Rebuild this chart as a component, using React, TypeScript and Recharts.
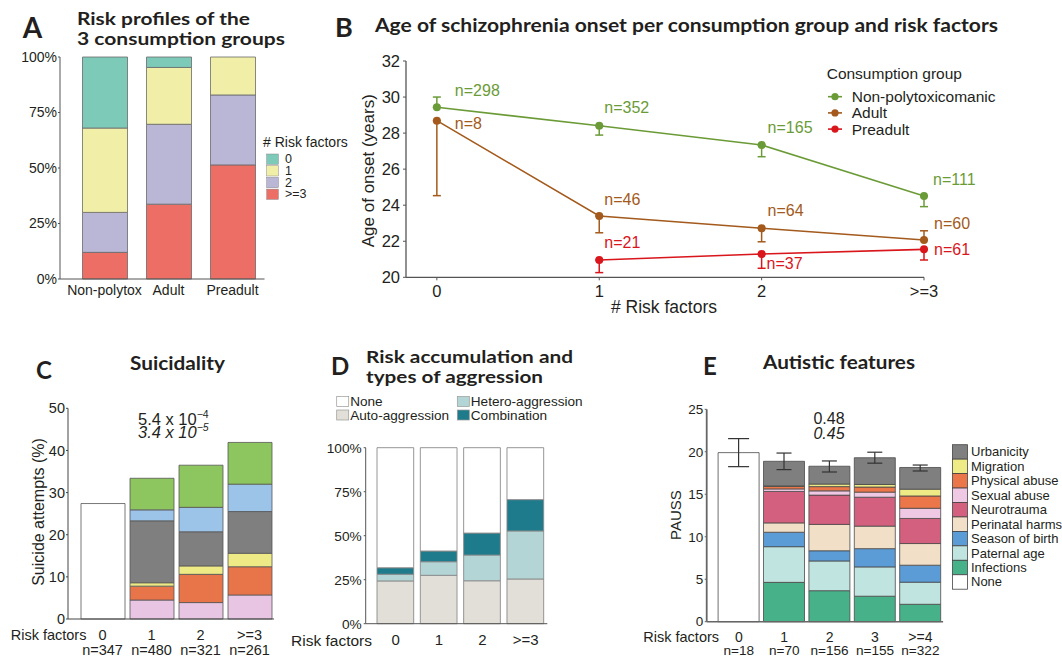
import React from "react";
import { BarChart, Bar, XAxis, YAxis, LineChart, Line, ErrorBar } from "recharts";

const SANS = "'Liberation Sans', Arial, Helvetica, sans-serif";
const HEAD = "Lato, 'Open Sans', sans-serif";
const INK = "#231f20";
const AXIS = "#555";

// ---- A: risk profiles of the 3 consumption groups (% of group)
const groupsA = ["Non-polytox", "Adult", "Preadult"];
const riskA0 = [32, 4.7, 0];
const riskA1 = [38, 25.6, 17.1];
const riskA2 = [18, 36, 31.5];
const riskA3 = [12, 33.7, 51.4];
const riskNamesA = ["0", "1", "2", ">=3"];
const riskColorsA = ["#7ecab9", "#f1eea7", "#b9b6d6", "#ec6e64"];
const pctTicks = [0, 25, 50, 75, 100];

// ---- B: age of onset per group and number of risk factors
const riskB = ["0", "1", "2", ">=3"];
const xB = [0, 1, 2, 3];
const ageTicksB = [20, 22, 24, 26, 28, 30, 32];
const greenB = [29.43, 28.41, 27.34, 24.51];
const greenErrB = [[0, 0.57], [0.52, 0], [0.65, 0], [0.59, 0]];
const greenNB = [298, 352, 165, 111];
const brownB = [28.69, 23.4, 22.72, 22.07];
const brownErrB = [[4.16, 0], [0.93, 0], [0.75, 0], [0, 0.51]];
const brownNB = [8, 46, 64, 60];
const redXB = [1, 2, 3];
const redB = [20.96, 21.29, 21.55];
const redErrB = [[0.7, 0], [0.79, 0], [0.59, 0]];
const redNB = [21, 37, 61];
const groupNamesB = ["Non-polytoxicomanic", "Adult", "Preadult"];
const GREEN = "#6b9b37";
const BROWN = "#a35a1c";
const RED = "#d9161c";
// where each n= label sits relative to its point
const nOffGreen = [[18, -17], [5, -18], [6, -17], [9, -17]];
const nOffBrown = [[18, 3], [5, -17], [6, -17.5], [10, -16]];
const nOffRed = [[5, -17], [5, 9], [10, 0]];

// ---- C: suicidality
const ticksC = ["0", "1", "2", ">=3"];
const nC = [347, 480, 321, 261];
const noneC = [27.4, 0, 0, 0];
const pinkC = [0, 4.5, 3.9, 5.7];
const orangeC = [0, 3.3, 6.7, 6.7];
const yellowC = [0, 0.8, 2.0, 3.2];
const grayC = [0, 14.7, 8.1, 9.9];
const blueC = [0, 2.6, 5.8, 6.5];
const greenC = [0, 7.5, 10.0, 9.9];
const ticksYC = [0, 10, 20, 30, 40, 50];

// ---- D: aggression types
const ticksD = ["0", "1", "2", ">=3"];
const autoD = [24.3, 27.5, 24.4, 25.4];
const heteroD = [3.8, 7.7, 14.6, 27.3];
const combD = [3.7, 6.1, 12.5, 17.8];
const noneD = [68.2, 58.7, 48.5, 29.5];

// ---- E: autistic features (PAUSS)
const ticksE = ["0", "1", "2", "3", ">=4"];
const nE = [18, 70, 156, 155, 322];
const noneE = [19.9, 0, 0, 0, 0];
const infE = [0, 4.63, 3.65, 3.0, 2.05];
const patE = [0, 4.2, 3.5, 3.45, 2.6];
const seasonE = [0, 1.7, 1.2, 2.15, 2.0];
const periE = [0, 1.1, 3.1, 2.65, 2.55];
const neuroE = [0, 3.7, 3.45, 3.4, 2.95];
const sexE = [0, 0.3, 0.5, 0.6, 1.2];
const physE = [0, 0.3, 0.5, 0.6, 1.45];
const migE = [0, 0.05, 0.3, 0.3, 0.8];
const urbE = [0, 2.9, 2.1, 3.15, 2.55];
const errNoneE = [[1.65, 1.65], null, null, null, null];
const errTopE = [null, [0.98, 0.97], [0.68, 0.62], [0.64, 0.65], [0.41, 0.29]];
const ticksYE = [0, 5, 10, 15, 20, 25];

const seriesC = [
  { key: "none", values: noneC, color: "#ffffff" },
  { key: "pink", values: pinkC, color: "#e8c6e3" },
  { key: "orange", values: orangeC, color: "#e8744a" },
  { key: "yellow", values: yellowC, color: "#eeea85" },
  { key: "gray", values: grayC, color: "#7f7f7f" },
  { key: "blue", values: blueC, color: "#9cc4e9" },
  { key: "green", values: greenC, color: "#8dc65e" },
];

const seriesD = [
  { key: "auto", name: "Auto-aggression", values: autoD, color: "#e1dfd8" },
  { key: "hetero", name: "Hetero-aggression", values: heteroD, color: "#b4d5d6" },
  { key: "comb", name: "Combination", values: combD, color: "#1e7b8b" },
  { key: "none", name: "None", values: noneD, color: "#ffffff" },
];

// bottom to top
const seriesE = [
  { key: "none", name: "None", values: noneE, color: "#ffffff" },
  { key: "inf", name: "Infections", values: infE, color: "#47b18a" },
  { key: "pat", name: "Paternal age", values: patE, color: "#c0e4e0" },
  { key: "season", name: "Season of birth", values: seasonE, color: "#5b9bd6" },
  { key: "peri", name: "Perinatal harms", values: periE, color: "#f2dfc8" },
  { key: "neuro", name: "Neurotrauma", values: neuroE, color: "#d3607f" },
  { key: "sex", name: "Sexual abuse", values: sexE, color: "#efc8e3" },
  { key: "phys", name: "Physical abuse", values: physE, color: "#ea7649" },
  { key: "mig", name: "Migration", values: migE, color: "#eeea86" },
  { key: "urb", name: "Urbanicity", values: urbE, color: "#7f7f7f" },
];

const tickStyle = (size: number) => ({ fontSize: size, fill: INK, fontFamily: SANS });

function twoLineTick(labels: string[], ns: number[], d1: number, d2: number, f1: number, f2: number) {
  return (props: any) => {
    const { x, y, index } = props;
    return (
      <g>
        <text x={x} y={y + d1} textAnchor="middle" dominantBaseline="central" fontSize={f1} fontFamily={SANS} fill={INK}>
          {labels[index]}
        </text>
        <text x={x} y={y + d2} textAnchor="middle" dominantBaseline="central" fontSize={f2} fontFamily={SANS} fill={INK}>
          n={ns[index]}
        </text>
      </g>
    );
  };
}

function dotWithN(color: string, offsets: number[][]) {
  return (p: any) => {
    const { cx, cy, index, payload } = p;
    if (cx == null || cy == null) return <g key={`e${index}`} />;
    const [dx, dy] = offsets[index];
    return (
      <g key={`d${index}`}>
        <circle cx={cx} cy={cy} r={4} fill={color} />
        <text x={cx + dx} y={cy + dy} fill={color} fontSize={16} fontFamily={SANS} dominantBaseline="central">
          n={payload.n}
        </text>
      </g>
    );
  };
}

function PanelA() {
  const data = groupsA.map((g, i) => ({ group: g, r0: riskA0[i], r1: riskA1[i], r2: riskA2[i], r3: riskA3[i] }));
  const keys = ["r3", "r2", "r1", "r0"];
  return (
    <BarChart width={360} height={300} data={data} margin={{ top: 57, right: 95.5, bottom: 0, left: 0 }}>
      <XAxis dataKey="group" height={21} padding={{ left: 12.5, right: 0 }} interval={0} tickSize={0} tickMargin={6}
        axisLine={{ stroke: AXIS }} tick={tickStyle(14)} />
      <YAxis width={60} domain={[0, 100]} ticks={pctTicks} tickFormatter={(v) => `${v}%`} tickSize={2} tickMargin={1}
        axisLine={{ stroke: AXIS }} tickLine={{ stroke: AXIS }} tick={tickStyle(14)} />
      {keys.map((k) => (
        <Bar key={k} dataKey={k} stackId="a" barSize={45} fill={riskColorsA[Number(k[1])]} stroke="#6a6a6a" strokeWidth={0.8} isAnimationActive={false} />
      ))}
    </BarChart>
  );
}

function PanelB() {
  const green = xB.map((x, i) => ({ x, y: greenB[i], err: greenErrB[i], n: greenNB[i] }));
  const brown = xB.map((x, i) => ({ x, y: brownB[i], err: brownErrB[i], n: brownNB[i] }));
  const red = redXB.map((x, i) => ({ x, y: redB[i], err: redErrB[i], n: redNB[i] }));
  return (
    <LineChart width={732} height={320} margin={{ top: 61, right: 138, bottom: 0, left: 0 }}>
      <XAxis dataKey="x" type="number" domain={[-0.19, 3]} ticks={xB} tickFormatter={(v) => riskB[v]} height={42.7}
        tickSize={3} tickMargin={5} axisLine={{ stroke: AXIS, strokeWidth: 1.3 }} tickLine={{ stroke: AXIS }} tick={tickStyle(16.5)} />
      <YAxis type="number" domain={[20, 32]} ticks={ageTicksB} width={76} tickSize={3} tickMargin={3}
        axisLine={{ stroke: AXIS, strokeWidth: 1.3 }} tickLine={{ stroke: AXIS }} tick={tickStyle(16.5)} />
      <Line data={green} dataKey="y" stroke={GREEN} strokeWidth={1.6} dot={dotWithN(GREEN, nOffGreen)} isAnimationActive={false}>
        <ErrorBar dataKey="err" direction="y" width={4} stroke={GREEN} strokeWidth={1.5} />
      </Line>
      <Line data={brown} dataKey="y" stroke={BROWN} strokeWidth={1.6} dot={dotWithN(BROWN, nOffBrown)} isAnimationActive={false}>
        <ErrorBar dataKey="err" direction="y" width={4} stroke={BROWN} strokeWidth={1.5} />
      </Line>
      <Line data={red} dataKey="y" stroke={RED} strokeWidth={1.6} dot={dotWithN(RED, nOffRed)} isAnimationActive={false}>
        <ErrorBar dataKey="err" direction="y" width={4} stroke={RED} strokeWidth={1.5} />
      </Line>
    </LineChart>
  );
}

function PanelC() {
  const data = ticksC.map((t, i) => {
    const row: any = { risk: t };
    seriesC.forEach((s) => (row[s.key] = s.values[i]));
    return row;
  });
  return (
    <BarChart width={330} height={281} data={data} margin={{ top: 28.3, right: 56, bottom: 0, left: 0 }}>
      <XAxis dataKey="risk" height={42} padding={{ left: 10, right: 0 }} interval={0} tickSize={0} tickMargin={0}
        axisLine={{ stroke: "#444" }} tick={twoLineTick(ticksC, nC, 16, 31, 14.5, 14.5)} />
      <YAxis width={68} domain={[0, 50]} ticks={ticksYC} tickSize={2} tickMargin={1}
        axisLine={{ stroke: "#444" }} tickLine={{ stroke: "#444" }} tick={tickStyle(14.5)} />
      {seriesC.map((s) => (
        <Bar key={s.key} dataKey={s.key} stackId="c" barSize={44} fill={s.color} stroke="#555" strokeWidth={0.8} isAnimationActive={false} />
      ))}
    </BarChart>
  );
}

function PanelD() {
  const data = ticksD.map((t, i) => {
    const row: any = { risk: t };
    seriesD.forEach((s) => (row[s.key] = s.values[i]));
    return row;
  });
  return (
    <BarChart width={350} height={240} data={data} margin={{ top: 27.7, right: 112.7, bottom: 0, left: 0 }}>
      <XAxis dataKey="risk" height={36.3} padding={{ left: 8.3, right: 0 }} interval={0} tickSize={0} tickMargin={11}
        axisLine={{ stroke: "#555" }} tick={tickStyle(15)} />
      <YAxis width={55.7} domain={[0, 100]} ticks={pctTicks} tickFormatter={(v) => `${v}%`} tickSize={2} tickMargin={2}
        axisLine={{ stroke: "#555" }} tickLine={{ stroke: "#555" }} tick={tickStyle(13.7)} />
      {seriesD.map((s) => (
        <Bar key={s.key} dataKey={s.key} stackId="d" barSize={36.7} fill={s.color} stroke="#8a8a8a" strokeWidth={0.9} isAnimationActive={false} />
      ))}
    </BarChart>
  );
}

function PanelE() {
  const data = ticksE.map((t, i) => {
    const row: any = { risk: t, errNone: errNoneE[i], errTop: errTopE[i] };
    seriesE.forEach((s) => (row[s.key] = s.values[i]));
    return row;
  });
  return (
    <BarChart width={402} height={281} data={data} margin={{ top: 29.3, right: 118.9, bottom: 0, left: 0 }}>
      <XAxis dataKey="risk" height={39.3} padding={{ left: 9.4, right: 0 }} interval={0} tickSize={0} tickMargin={0}
        axisLine={{ stroke: "#666", strokeWidth: 1.5 }} tick={twoLineTick(ticksE, nE, 15.3, 29, 14, 13.6)} />
      <YAxis width={46.7} domain={[0, 25]} ticks={ticksYE} tickSize={2} tickMargin={1.5}
        axisLine={{ stroke: "#666", strokeWidth: 1.8 }} tickLine={{ stroke: "#666" }} tick={tickStyle(13.5)} />
      {seriesE.map((s) => (
        <Bar key={s.key} dataKey={s.key} stackId="e" barSize={41} fill={s.color} stroke="#4a4a4a" strokeWidth={0.8} isAnimationActive={false}>
          {s.key === "none" && <ErrorBar dataKey="errNone" direction="y" width={10.5} stroke="#333" strokeWidth={1.2} />}
          {s.key === "urb" && <ErrorBar dataKey="errTop" direction="y" width={7.5} stroke="#333" strokeWidth={1.2} />}
        </Bar>
      ))}
    </BarChart>
  );
}

function Overlay() {
  const t = { fontFamily: SANS, fill: INK } as const;
  const h = { fontFamily: HEAD, fontWeight: 700, fill: INK } as const;
  const legendE = [...seriesE].reverse();
  const legendD = [seriesD[3], seriesD[0], seriesD[1], seriesD[2]];
  const legendDPos = [[336.7, 396.5], [336.7, 410], [457.3, 396.5], [457.3, 410]];
  return (
    <svg width={1062} height={661} style={{ position: "absolute", left: 0, top: 0, pointerEvents: "none" }}>
      {/* A */}
      <text x={22.7} y={38.3} fontSize={28} {...h}>A</text>
      <text x={77} y={25} fontSize={16.5} textLength={173} lengthAdjust="spacingAndGlyphs" {...h}>Risk profiles of the</text>
      <text x={77} y={45} fontSize={16.5} textLength={208} lengthAdjust="spacingAndGlyphs" {...h}>3 consumption groups</text>
      <text x={263} y={142} fontSize={14} dominantBaseline="central" {...t}># Risk factors</text>
      {riskNamesA.map((n, i) => (
        <g key={n}>
          <rect x={266.7} y={154 + i * 11.7} width={11.7} height={10.3} fill={riskColorsA[i]} stroke="#888" strokeWidth={0.5} />
          <text x={285} y={159.2 + i * 11.7} fontSize={12.5} dominantBaseline="central" {...t}>{n}</text>
        </g>
      ))}

      {/* B */}
      <text x={335} y={37} fontSize={27} {...h}>B</text>
      <text x={375} y={31.7} fontSize={18.5} textLength={623} lengthAdjust="spacingAndGlyphs" {...h}>
        Age of schizophrenia onset per consumption group and risk factors
      </text>
      <text x={369} y={170.7} fontSize={17} textAnchor="middle" dominantBaseline="central" transform="rotate(-90 369 170.7)" {...t}>
        Age of onset (years)
      </text>
      <text x={664} y={307} fontSize={17.5} textAnchor="middle" dominantBaseline="central" {...t}># Risk factors</text>
      <text x={826.7} y={73} fontSize={15.5} dominantBaseline="central" {...t}>Consumption group</text>
      {groupNamesB.map((n, i) => {
        const c = [GREEN, BROWN, RED][i];
        const y = 96.7 + i * 16.2;
        return (
          <g key={n}>
            <line x1={828} x2={842} y1={y} y2={y} stroke={c} strokeWidth={1.6} />
            <circle cx={835} cy={y} r={3.6} fill={c} />
            <text x={851.7} y={y} fontSize={15.5} dominantBaseline="central" {...t}>{n}</text>
          </g>
        );
      })}

      {/* C */}
      <text x={36} y={379} fontSize={24} {...h}>C</text>
      <text x={130} y={370} fontSize={18.5} textLength={95} lengthAdjust="spacingAndGlyphs" {...h}>Suicidality</text>
      <text x={38.5} y={512} fontSize={16} textAnchor="middle" dominantBaseline="central" transform="rotate(-90 38.5 512)" {...t}>
        Suicide attempts (%)
      </text>
      <text x={138} y={424.5} fontSize={16.5} {...t}>
        5.4 x 10<tspan dy={-7} fontSize={10.5}>−4</tspan>
      </text>
      <text x={138} y={437.5} fontSize={16.5} fontStyle="italic" {...t}>
        3.4 x 10<tspan dy={-7} fontSize={10.5}>−5</tspan>
      </text>
      <text x={10.7} y={635} fontSize={14.5} dominantBaseline="central" {...t}>Risk factors</text>

      {/* D */}
      <text x={331} y={375} fontSize={24} {...h}>D</text>
      <text x={366} y={362.7} fontSize={17.6} textLength={207} lengthAdjust="spacingAndGlyphs" {...h}>Risk accumulation and</text>
      <text x={366} y={383.3} fontSize={17.6} textLength={177} lengthAdjust="spacingAndGlyphs" {...h}>types of aggression</text>
      {legendD.map((s, i) => (
        <g key={s.key}>
          <rect x={legendDPos[i][0]} y={legendDPos[i][1]} width={12} height={10} fill={s.color} stroke="#999" strokeWidth={0.7} />
          <text x={legendDPos[i][0] + 13.5} y={legendDPos[i][1] + 5} fontSize={13.6} dominantBaseline="central" {...t}>{s.name}</text>
        </g>
      ))}
      <text x={372} y={640} fontSize={15.5} textAnchor="end" dominantBaseline="central" {...t}>Risk factors</text>

      {/* E */}
      <text x={703} y={375} fontSize={24} {...h}>E</text>
      <text x={763} y={369.3} fontSize={18.5} textLength={152} lengthAdjust="spacingAndGlyphs" {...h}>Autistic features</text>
      <text x={675} y={515} fontSize={15} textAnchor="middle" dominantBaseline="central" transform="rotate(-90 675 515)" {...t}>PAUSS</text>
      <text x={829} y={418} fontSize={16} textAnchor="middle" dominantBaseline="central" {...t}>0.48</text>
      <text x={829} y={433.5} fontSize={16} fontStyle="italic" textAnchor="middle" dominantBaseline="central" {...t}>0.45</text>
      {legendE.map((s, i) => (
        <g key={s.key}>
          <rect x={952.5} y={444.7 + i * 14.45} width={15} height={14.45} fill={s.color} stroke="#444" strokeWidth={0.8} />
          <text x={971} y={451.9 + i * 14.45} fontSize={13} dominantBaseline="central" {...t}>{s.name}</text>
        </g>
      ))}
      <text x={643.3} y={637} fontSize={14.5} dominantBaseline="central" {...t}>Risk factors</text>
    </svg>
  );
}

export default function App() {
  return (
    <div style={{ position: "absolute", left: 0, top: 0, width: 1062, height: 661, background: "#fff", overflow: "hidden" }}>
      <div style={{ position: "absolute", left: 0, top: 0 }}><PanelA /></div>
      <div style={{ position: "absolute", left: 330, top: 0 }}><PanelB /></div>
      <div style={{ position: "absolute", left: 0, top: 380 }}><PanelC /></div>
      <div style={{ position: "absolute", left: 310, top: 420 }}><PanelD /></div>
      <div style={{ position: "absolute", left: 660, top: 380 }}><PanelE /></div>
      <Overlay />
    </div>
  );
}
